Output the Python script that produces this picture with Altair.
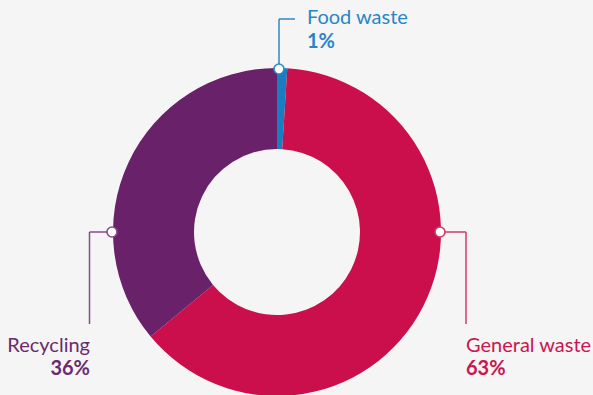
import altair as alt
import pandas as pd

# ---- data ----
categories = ["Food waste", "General waste", "Recycling"]
values = [1, 63, 36]
pct_labels = ["1%", "63%", "36%"]

# ---- styles / layout ----
W, H = 593, 395
CX, CY = 277, 232
R_OUT, R_IN = 164, 83
slice_colors = ["#1a7dc0", "#cb0e4c", "#69216a"]
line_colors = ["#2f86c6", "#d23a68", "#8a4a8c"]
text_colors = ["#2a85c7", "#cc1450", "#6b2a6d"]
FONT = "Lato"

# leader geometry per category (pixels)
anchors = [(279, 69), (440, 232), (112, 232)]
polylines = [
    [(279, 69), (279, 19), (295, 19)],
    [(440, 232), (466, 232), (466, 324)],
    [(112, 232), (89.5, 232), (89.5, 324)],
]
name_pos = [(307, 18), (466, 346), (90, 346)]
pct_pos = [(307, 42), (466, 369), (90, 369)]
aligns = ["left", "left", "right"]

df = pd.DataFrame({"cat": categories, "val": values, "ord": [0, 1, 2]})
cscale = alt.Scale(domain=categories, range=slice_colors)

xs = alt.Scale(domain=[0, W], range=[0, W], nice=False, zero=False)
ys = alt.Scale(domain=[0, H], range=[0, H], nice=False, zero=False)

arc = alt.Chart(df).mark_arc(innerRadius=R_IN, outerRadius=R_OUT, stroke=None).encode(
    theta=alt.Theta("val:Q", stack=True),
    color=alt.Color("cat:N", scale=cscale, legend=None),
    order=alt.Order("ord:Q"),
    x=alt.value(CX),
    y=alt.value(CY),
)

seg_rows = []
for i, pl in enumerate(polylines):
    for (x1, y1), (x2, y2) in zip(pl[:-1], pl[1:]):
        seg_rows.append({"cat": categories[i], "x": x1, "y": y1, "x2": x2, "y2": y2})
segs = pd.DataFrame(seg_rows)
lscale = alt.Scale(domain=categories, range=line_colors)
tscale = alt.Scale(domain=categories, range=text_colors)

rules = alt.Chart(segs).mark_rule(strokeWidth=1.5).encode(
    x=alt.X("x:Q", scale=xs, axis=None),
    y=alt.Y("y:Q", scale=ys, axis=None),
    x2="x2:Q",
    y2="y2:Q",
    color=alt.Color("cat:N", scale=lscale, legend=None),
)

pts = pd.DataFrame({"cat": categories,
                    "x": [a[0] for a in anchors],
                    "y": [a[1] for a in anchors]})
dots = alt.Chart(pts).mark_point(filled=True, fill="white", size=100, strokeWidth=1.6, opacity=1).encode(
    x=alt.X("x:Q", scale=xs, axis=None),
    y=alt.Y("y:Q", scale=ys, axis=None),
    stroke=alt.Stroke("cat:N", scale=lscale, legend=None),
)

texts = []
for i, cat in enumerate(categories):
    tdf = pd.DataFrame({"cat": [cat, cat],
                        "label": [cat, pct_labels[i]],
                        "x": [name_pos[i][0], pct_pos[i][0]],
                        "y": [name_pos[i][1], pct_pos[i][1]]})
    for j, wgt in enumerate(["normal", "bold"]):
        t = alt.Chart(tdf.iloc[[j]]).mark_text(
            align=aligns[i], baseline="middle", font=FONT, fontSize=20,
            fontWeight=wgt,
        ).encode(
            x=alt.X("x:Q", scale=xs, axis=None),
            y=alt.Y("y:Q", scale=ys, axis=None),
            text="label:N",
            color=alt.Color("cat:N", scale=tscale, legend=None),
        )
        texts.append(t)

chart = alt.layer(arc, rules, dots, *texts).resolve_scale(
    color="independent"
).properties(
    width=W, height=H, padding=0, background="#f5f5f5",
    autosize=alt.AutoSizeParams(type="none"),
).configure_view(stroke=None)

chart.save("out.html", embed_options={"renderer": "svg", "actions": False})
